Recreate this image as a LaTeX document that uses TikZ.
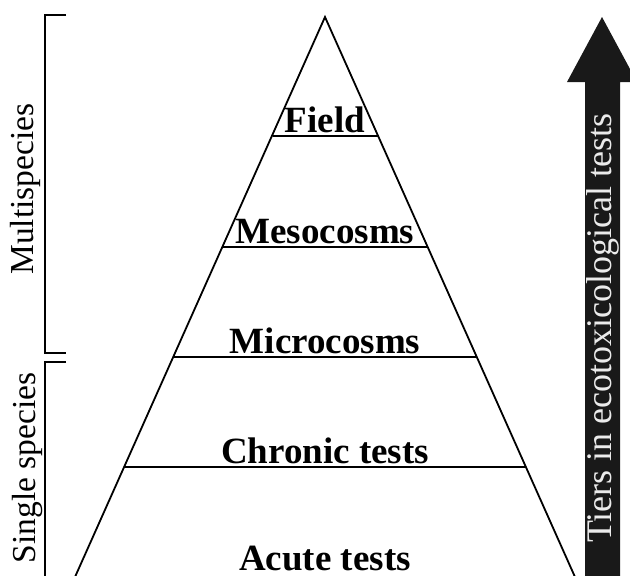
\documentclass[tikz,border=0pt]{standalone}
\usepackage{fontspec}
\setmainfont{Liberation Serif}
\begin{document}
\begin{tikzpicture}[x=1pt,y=-1pt,
  tier/.style={anchor=base,inner sep=0pt,font=\fontsize{37}{40}\selectfont\bfseries},
  side/.style={anchor=base,inner sep=0pt,rotate=90,font=\fontsize{33.5}{36}\selectfont},
  edge/.style={line width=1.8pt,black},
  brk/.style={line width=2.6pt,black}]
\useasboundingbox (0,0) rectangle (630,576);
\clip (0,0) rectangle (630,576);
% pyramid
\coordinate (apex) at (325,17);
\coordinate (bl) at (75,577);
\coordinate (br) at (575,577);
\coordinate (f1) at (273,136); \coordinate (f2) at (378,136);
\coordinate (m1) at (222,247); \coordinate (m2) at (428,247);
\coordinate (c1) at (173,357); \coordinate (c2) at (477,357);
\coordinate (h1) at (124,467); \coordinate (h2) at (526,467);
\draw[edge,line join=miter] (bl) -- (apex) -- (br);
\draw[line width=1.5pt,black!35] (bl) -- (br);
\draw[edge] (f1) -- (f2);
\draw[edge] (m1) -- (m2);
\draw[edge] (c1) -- (c2);
\draw[edge] (h1) -- (h2);
\node[tier] (field) at (325,132) {Field};
\node[tier] (meso) at (325,243) {Mesocosms};
\node[tier] (micro) at (325,353) {Microcosms};
\node[tier] (chronic) at (325,463) {Chronic tests};
\node[tier] (acute) at (325,570) {Acute tests};
% brackets
\coordinate (b1) at (66,15); \coordinate (b2) at (45,15);
\coordinate (b3) at (45,353); \coordinate (b4) at (66,353);
\coordinate (b5) at (66,362); \coordinate (b6) at (45,362);
\coordinate (b7) at (45,578);
\draw[brk] (b1) -- (b2) -- (b3) -- (b4);
\draw[brk] (b5) -- (b6) -- (b7);
\node[side] (multi) at (33,189) {Multispecies};
\node[side] (single) at (35,468) {Single species};
% arrow
\coordinate (a1) at (585,580); \coordinate (a2) at (585,82);
\coordinate (a3) at (567,82); \coordinate (a4) at (602,17);
\coordinate (a5) at (637,82); \coordinate (a6) at (620,82);
\coordinate (a7) at (620,580);
\fill[black!90] (a1) -- (a2) -- (a3) -- (a4) -- (a5) -- (a6) -- (a7) -- cycle;
\node[anchor=base,inner sep=0pt,rotate=90,text=white!92!black,font=\fontsize{36}{38}\selectfont] (tiers) at (611,328) {Tiers in ecotoxicological tests};
\end{tikzpicture}
\end{document}
